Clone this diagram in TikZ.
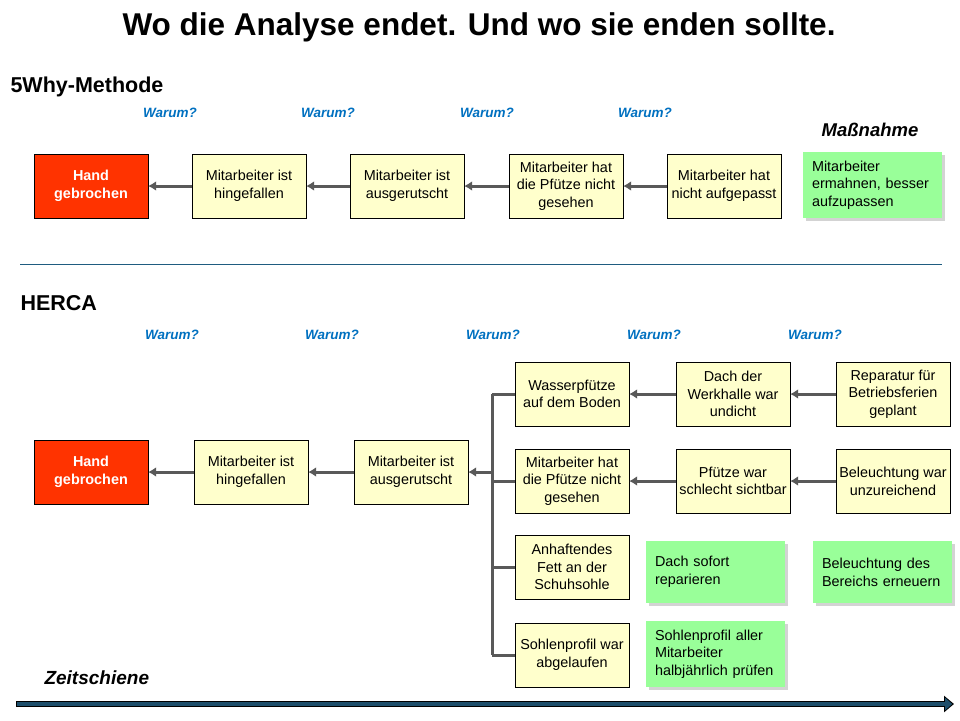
\documentclass[tikz,border=0pt]{standalone}
\usepackage{fontspec}
\setmainfont{Liberation Sans}
\usetikzlibrary{shapes,arrows,arrows.meta,shadows,positioning}
\definecolor{causered}{HTML}{FF3300}
\definecolor{causeyellow}{HTML}{FFFFCC}
\definecolor{fixgreen}{HTML}{99FF99}
\definecolor{arrowgray}{HTML}{595959}
\definecolor{whyblue}{HTML}{0070C0}
\definecolor{rulecolor}{HTML}{1F5C80}
\definecolor{timeblue}{HTML}{1D4E6B}
\tikzstyle{block} = [rectangle, draw, fill=causeyellow, align=center, inner sep=1pt, minimum width=114pt, minimum height=64pt, font=\fontsize{14.4}{17.7}\selectfont]
\tikzstyle{effect} = [block, fill=causered, text=white, font=\fontsize{14.4}{17.7}\selectfont\bfseries]
\tikzstyle{fix} = [rectangle, fill=fixgreen, text width=121pt, align=left, inner sep=9pt, minimum height=62pt, font=\fontsize{14.4}{17.7}\selectfont, drop shadow={opacity=0.35, shadow xshift=3pt, shadow yshift=-3pt}]
\tikzstyle{why} = [text=whyblue, font=\fontsize{13.5}{15}\selectfont\bfseries\itshape]
\tikzstyle{heading} = [anchor=west, font=\fontsize{21.5}{25}\selectfont\bfseries]
\tikzstyle{line} = [draw, arrowgray, line width=3pt, -{Latex[length=8pt,width=10pt]}]
\tikzstyle{branch} = [draw, arrowgray, line width=3pt]

\begin{document}
\begin{tikzpicture}[x=1pt, y=-1pt]
		\useasboundingbox (0,0) rectangle (960,720);
		\node [font=\fontsize{31.5}{35}\selectfont\bfseries] (title) at (479,27) {Wo die Analyse endet. Und wo sie enden sollte.};

		% 5Why
		\node [heading] (fivewhy) at (7,87) {5Why-Methode};
		\foreach \x [count=\i] in {170,328,487,645}
			\node [why] (whyA\i) at (\x,113) {Warum?};
		\node [font=\fontsize{18.5}{22}\selectfont\bfseries\itshape] (measureA) at (870,130) {Maßnahme};

		\node [effect] (hand) at (91,186) {Hand\\gebrochen};
		\node [block, right of=hand, node distance=158pt] (fell) {Mitarbeiter ist\\hingefallen};
		\node [block, right of=fell, node distance=158pt] (slipped) {Mitarbeiter ist\\ausgerutscht};
		\node [block, right of=slipped, node distance=159pt] (unseen) {Mitarbeiter hat\\die Pfütze nicht\\gesehen};
		\node [block, right of=unseen, node distance=158pt] (careless) {Mitarbeiter hat\\nicht aufgepasst};
		\node [fix] (warn) at (872.5,185) {Mitarbeiter\\ermahnen, besser\\aufzupassen};

		\path [line] (fell) -- (hand);
		\path [line] (slipped) -- (fell);
		\path [line] (unseen) -- (slipped);
		\path [line] (careless) -- (unseen);

		\coordinate (ruleL) at (20,264);
		\coordinate (ruleR) at (942,264);
		\draw [rulecolor, line width=0.8pt] (ruleL) -- (ruleR);

		% HERCA
		\node [heading] (herca) at (17,303) {HERCA};
		\foreach \x [count=\i] in {172,332,493,654,815}
			\node [why] (whyB\i) at (\x,335) {Warum?};

		\node [effect] (handB) at (91,472) {Hand\\gebrochen};
		\node [block, right of=handB, node distance=160pt] (fellB) {Mitarbeiter ist\\hingefallen};
		\node [block, right of=fellB, node distance=160pt] (slippedB) {Mitarbeiter ist\\ausgerutscht};

		\node [block] (puddle) at (572,394) {Wasserpfütze\\auf dem Boden};
		\node [block, below of=puddle, node distance=87pt] (unseenB) {Mitarbeiter hat\\die Pfütze nicht\\gesehen};
		\node [block, below of=unseenB, node distance=86pt] (grease) {Anhaftendes\\Fett an der\\Schuhsohle};
		\node [block, below of=grease, node distance=88pt] (sole) {Sohlenprofil war\\abgelaufen};

		\node [block, right of=puddle, node distance=161pt] (roof) {Dach der\\Werkhalle war\\undicht};
		\node [block, right of=roof, node distance=160pt] (repair) {Reparatur für\\Betriebsferien\\geplant};
		\node [block, below of=roof, node distance=87pt] (visible) {Pfütze war\\schlecht sichtbar};
		\node [block, below of=repair, node distance=87pt] (light) {Beleuchtung war\\unzureichend};

		\node [fix] (fixroof) at (715.5,572) {Dach sofort\\reparieren};
		\node [fix] (fixlight) at (882.5,572) {Beleuchtung des\\Bereichs erneuern};
		\node [fix] (fixsole) at (715.5,654) {Sohlenprofil aller\\Mitarbeiter\\halbjährlich prüfen};

		\path [line] (fellB) -- (handB);
		\path [line] (slippedB) -- (fellB);
		\path [line] (roof) -- (puddle);
		\path [line] (repair) -- (roof);
		\path [line] (visible) -- (unseenB);
		\path [line] (light) -- (visible);

		\coordinate (fork) at (492,472);
		\path [line] (fork) -- (slippedB);
		\path [branch] (fork |- puddle) -- (fork |- sole);
		\path [branch] (fork |- puddle) -- (puddle);
		\path [branch] (fork |- unseenB) -- (unseenB);
		\path [branch] (fork |- grease) -- (grease);
		\path [branch] (fork |- sole) -- (sole);

		% timeline
		\node [font=\fontsize{19}{22}\selectfont\bfseries\itshape, anchor=west] (timeline) at (41,678) {Zeitschiene};
		\coordinate (timeL) at (16,704);
		\coordinate (timeR) at (954,704);
		\draw [line width=6.5pt, black, -{Triangle[length=10pt,width=16pt]}] (timeL) -- (timeR);
		\draw [line width=4pt, timeblue, shorten >=1.8pt, shorten <=1pt, -{Triangle[length=7pt,width=12pt]}] (timeL) -- (timeR);
\end{tikzpicture}
\end{document}
